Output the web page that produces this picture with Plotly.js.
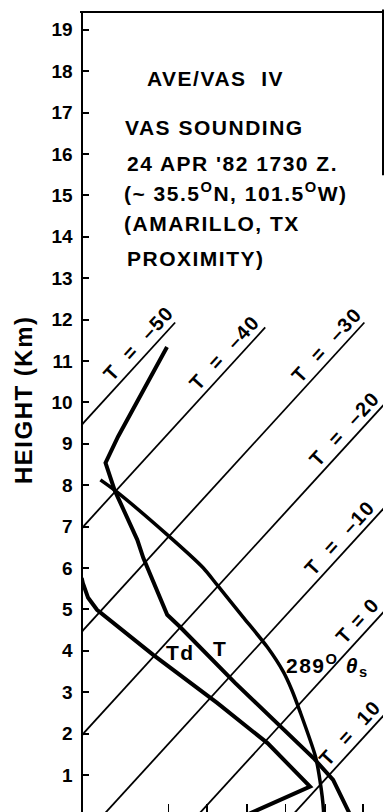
<!DOCTYPE html>
<html><head><meta charset="utf-8">
<script src="https://cdn.plot.ly/plotly-3.0.1.min.js"></script>
<style>
html,body{margin:0;padding:0;background:#fff;}
#chart{width:385px;height:812px;}
.annotation-text{letter-spacing:1.5px;}
</style></head><body><div id="chart"></div>
<script>
// ---- data ----
// isotherms (deg C)
const isoTemps   = [-50, -40, -30, -20, -10, 0, 10];
const isoTopKm   = [11.93, 11.81, 11.93, 20, 20, 20, 20];
const isoLabelKm = [11.22, 11.0, 11.18, 9.15, 6.52, 4.52, 1.8];
const isoLabels  = ['T\u00a0\u00a0=\u00a0\u00a0\u201350','T\u00a0\u00a0=\u00a0\u00a0\u201340','T\u00a0\u00a0=\u00a0\u00a0\u201330','T\u00a0\u00a0=\u00a0\u00a0\u201320','T\u00a0\u00a0=\u00a0\u00a0\u201310','T\u00a0=\u00a00','T\u00a0\u00a0=\u00a0\u00a010'];

// temperature profile T
const heightT = [11.34, 9.17, 8.54, 7.88, 6.68, 6.24, 4.87, 4.58, 3.22, 2.09, 1.41, 0.88, 0.20, 0.0];
const tempT   = [-48.5, -45.0, -43.8, -40.2, -33.0, -30.6, -22.6, -20.1, -8.8, 0.8, 6.7, 10.9, 15.1, 16.3];
// dew point profile Td
const heightTd = [5.76, 5.64, 5.28, 4.99, 3.90, 2.74, 1.77, 0.88, 0.72, 0.15, 0.0];
const tempTd   = [-35.2, -34.6, -32.6, -30.5, -20.2, -8.8, 0.4, 7.7, 9.1, 5.8, 4.9];
// 289 K saturated adiabat (theta_s)
const heightThs = [8.13, 7.88, 6.80, 6.00, 5.59, 4.82, 4.09, 3.49, 3.06, 2.53, 1.44, 0.88, 0.15, 0.0];
const tempThs   = [-42.7, -40.2, -30.3, -23.3, -20.2, -14.4, -8.9, -4.8, -2.2, 0.8, 6.8, 9.5, 12.8, 13.4];

const heightTicks = [1,2,3,4,5,6,7,8,9,10,11,12,13,14,15,16,17,18,19];
const bottomTicks = [-3.0, 1.1, 5.3, 9.4, 13.6, 17.6];

const yTitle = 'HEIGHT (Km)';
const textLines = ['AVE/VAS\u00a0\u00a0IV', 'VAS SOUNDING', "24 APR '82 1730 Z.", '(~ 35.5<sup>O</sup>N, 101.5<sup>O</sup>W)', '(AMARILLO, TX', 'PROXIMITY)'];

// ---- skew transform: x = T + SKEW*z ----
const SKEW = 4.0;
const sk = (T, z) => T.map((t, i) => t + SKEW * z[i]);

const FONT = 'Liberation Sans, Arial, Helvetica, sans-serif';
const traces = [];
isoTemps.forEach((t, i) => {
  const zs = [-1, isoTopKm[i]];
  traces.push({type:'scatter', mode:'lines', x: sk([t, t], zs), y: zs,
    line:{color:'#000', width:1.8}, hoverinfo:'skip', showlegend:false});
});
traces.push({type:'scatter', mode:'lines', name:'T', x: sk(tempT, heightT), y: heightT,
  line:{color:'#000', width:4}, showlegend:false});
traces.push({type:'scatter', mode:'lines', name:'Td', x: sk(tempTd, heightTd), y: heightTd,
  line:{color:'#000', width:4}, showlegend:false});
traces.push({type:'scatter', mode:'lines', name:'289 theta_s', x: sk(tempThs, heightThs), y: heightThs,
  line:{color:'#000', width:3.5, shape:'spline', smoothing:0.7}, showlegend:false});

const annotations = [];
const ANG = 47.6, d = 13;
const xsh = -Math.sin(ANG*Math.PI/180)*d, ysh = Math.cos(ANG*Math.PI/180)*d;
isoTemps.forEach((t, i) => {
  const z = isoLabelKm[i];
  annotations.push({x: t + SKEW*z, y: z, xref:'x', yref:'y', text: isoLabels[i], showarrow:false,
    textangle: -ANG, xanchor:'center', yanchor:'middle', xshift: xsh, yshift: ysh,
    font:{family:FONT, size:20, color:'#000', weight:'bold'}});
});
const textPos = [[0.207,0.9175],[0.133,0.856],[0.14,0.811],[0.13,0.775],[0.13,0.736],[0.14,0.6925]];
textLines.forEach((s, i) => {
  annotations.push({x: textPos[i][0], y: textPos[i][1], xref:'paper', yref:'paper', text: s,
    showarrow:false, xanchor:'left', yanchor:'middle',
    font:{family:FONT, size:21, color:'#000', weight:'bold'}});
});
// curve labels (temperature, height)
const curveLabels = [
  {text:'Td', t:-17.6, z:3.97},
  {text:'T', t:-13.7, z:4.05},
  {text:'289<sup>O</sup> <i>θ</i><sub>s</sub>', t:-0.7, z:3.64}
];
curveLabels.forEach(c => {
  annotations.push({x: c.t + SKEW*c.z, y: c.z, xref:'x', yref:'y', text: c.text, showarrow:false,
    xanchor:'center', yanchor:'middle', font:{family:FONT, size:21, color:'#000', weight:'bold'}});
});
// y-axis title
annotations.push({x:-0.2, y:0.515, xref:'paper', yref:'paper', text: yTitle, showarrow:false,
  textangle:-90, xanchor:'center', yanchor:'middle',
  font:{family:FONT, size:24, color:'#000', weight:'bold'}});

const layout = {
  width:385, height:812,
  margin:{l:83, r:2, t:12, b:0, pad:0},
  paper_bgcolor:'#fff', plot_bgcolor:'#fff',
  showlegend:false,
  xaxis:{range:[-12.02, 19.69], showgrid:false, zeroline:false, showline:false,
    ticks:'inside', ticklen:8, tickwidth:1.5, tickcolor:'#000', tickvals: bottomTicks, showticklabels:false, fixedrange:true},
  yaxis:{range:[0.106, 19.43], showgrid:false, zeroline:false, showline:true, linecolor:'#000', linewidth:2.5,
    ticks:'inside', ticklen:6, tickwidth:2, tickcolor:'#000', tickvals: heightTicks,
    ticklabelstandoff:4,
    tickfont:{family:FONT, size:19, color:'#000', weight:'bold'}, fixedrange:true},
  shapes:[
    {type:'line', xref:'paper', yref:'paper', x0:-0.01, x1:1, y0:1, y1:1, line:{color:'#000', width:2}},
    {type:'line', xref:'paper', yref:'paper', x0:1, x1:1, y0:0.796, y1:1.003, line:{color:'#000', width:2}}
  ],
  annotations: annotations
};
Plotly.newPlot('chart', traces, layout, {displayModeBar:false, staticPlot:true});
</script></body></html>
